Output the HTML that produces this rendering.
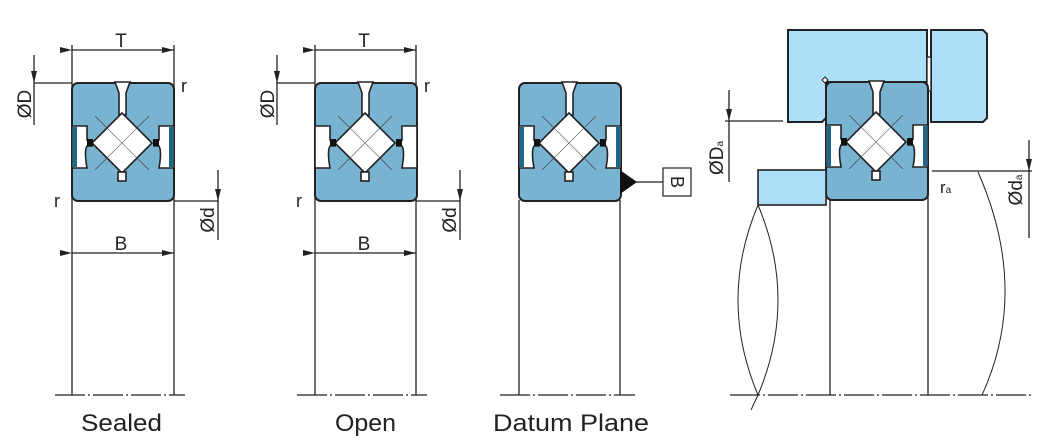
<!DOCTYPE html>
<html><head><meta charset="utf-8"><style>
html,body{margin:0;padding:0;background:#fff;}
svg{display:block;font-family:"Liberation Sans",sans-serif;}
</style></head><body>
<svg width="1049" height="445" viewBox="0 0 1049 445" xmlns="http://www.w3.org/2000/svg">
<defs>
<marker id="ar" viewBox="0 0 12 6" refX="12" refY="3" markerWidth="12" markerHeight="6" orient="auto" markerUnits="userSpaceOnUse"><path d="M0,0 L12,3 L0,6 Z" fill="#222"/></marker>
<g id="brg">
<rect x="0" y="0" width="102" height="118" rx="6" fill="#78b3d1" stroke="#222" stroke-width="2"/>
<path d="M43,-1 L58,-1 L54,10 L54,32 L47,32 L47,10 Z" fill="#fff" stroke="#222" stroke-width="1.6"/>
<line x1="23" y1="33" x2="77" y2="87" stroke="#444" stroke-width="0.7"/>
<line x1="77" y1="33" x2="23" y2="87" stroke="#444" stroke-width="0.7"/>
<path d="M50,30 L80,60 L50,90 L20,60 Z" fill="#fff" stroke="#222" stroke-width="1.6"/>
<line x1="33" y1="43" x2="67" y2="77" stroke="#555" stroke-width="0.6"/>
<line x1="67" y1="43" x2="33" y2="77" stroke="#555" stroke-width="0.6"/>
<rect x="46" y="89" width="8" height="9" fill="#fff" stroke="#222" stroke-width="1.6"/>
<path d="M0,43 L15,43 L15,57 L20,57 L20,63 L15,63 Q12,68 15,85 L0,85 Z" fill="#fff" stroke="#222" stroke-width="1.6"/>
<path d="M102,43 L87,43 L87,57 L82,57 L82,63 L87,63 Q90,68 87,85 L102,85 Z" fill="#fff" stroke="#222" stroke-width="1.6"/>
<rect x="15" y="56" width="6" height="7" fill="#111"/>
<rect x="81" y="56" width="6" height="7" fill="#111"/>
</g>
</defs>

<g stroke="#222" stroke-width="1.3" fill="none">
<!-- Sealed -->
<line x1="72" y1="45" x2="72" y2="395"/><line x1="174" y1="45" x2="174" y2="395"/>
<line x1="72" y1="50" x2="174" y2="50" marker-start="url(#ar)" marker-end="url(#ar)"/>
<line x1="72" y1="253" x2="174" y2="253" marker-start="url(#ar)" marker-end="url(#ar)"/>
<line x1="34" y1="83" x2="72" y2="83"/><line x1="34" y1="55" x2="34" y2="83" marker-end="url(#ar)"/><line x1="34" y1="83" x2="34" y2="125"/>
<line x1="174" y1="201" x2="218" y2="201"/><line x1="218" y1="170" x2="218" y2="201" marker-end="url(#ar)"/><line x1="218" y1="201" x2="218" y2="240"/>
<line x1="55" y1="395" x2="185" y2="395" stroke-dasharray="30,3,2,3"/>
<!-- Open -->
<line x1="315" y1="45" x2="315" y2="395"/><line x1="416" y1="45" x2="416" y2="395"/>
<line x1="315" y1="50" x2="416" y2="50" marker-start="url(#ar)" marker-end="url(#ar)"/>
<line x1="315" y1="253" x2="416" y2="253" marker-start="url(#ar)" marker-end="url(#ar)"/>
<line x1="277" y1="83" x2="315" y2="83"/><line x1="277" y1="55" x2="277" y2="83" marker-end="url(#ar)"/><line x1="277" y1="83" x2="277" y2="125"/>
<line x1="416" y1="201" x2="460" y2="201"/><line x1="460" y1="170" x2="460" y2="201" marker-end="url(#ar)"/><line x1="460" y1="201" x2="460" y2="240"/>
<line x1="297" y1="395" x2="427" y2="395" stroke-dasharray="30,3,2,3"/>
<!-- Datum -->
<line x1="519" y1="200" x2="519" y2="395"/><line x1="620" y1="200" x2="620" y2="395"/>
<line x1="500" y1="395" x2="635" y2="395" stroke-dasharray="30,3,2,3"/>
<line x1="636" y1="182" x2="663" y2="182"/>
<!-- Mounted -->
<line x1="830" y1="200" x2="830" y2="395"/><line x1="928" y1="120" x2="928" y2="395"/>
<line x1="730" y1="395" x2="1032" y2="395" stroke-dasharray="30,3,2,3"/>
<line x1="725" y1="121" x2="783" y2="121"/><line x1="729" y1="90" x2="729" y2="121" marker-end="url(#ar)"/><line x1="729" y1="121" x2="729" y2="182"/>
<line x1="932" y1="171" x2="1032" y2="171"/><line x1="1029" y1="140" x2="1029" y2="171" marker-end="url(#ar)"/><line x1="1029" y1="171" x2="1029" y2="238"/>
<path d="M758,205 Q718,300 758,395 Q798,300 758,205" stroke-width="1"/>
<line x1="758" y1="395" x2="751" y2="410" stroke-width="1"/>
<path d="M978,172 Q1030,290 982,395" stroke-width="1"/>
</g>

<use href="#brg" x="72" y="83"/>
<use href="#brg" x="315" y="83"/>
<use href="#brg" x="519" y="83"/>
<!-- Open bearing: hide dark seal strips -->
<!-- Sealed dark strips -->
<rect x="73" y="127" width="4" height="40" fill="#1a6790"/>
<rect x="169" y="127" width="4" height="40" fill="#1a6790"/>
<rect x="520" y="127" width="4" height="40" fill="#1a6790"/>
<rect x="616" y="127" width="4" height="40" fill="#1a6790"/>

<!-- Housing -->
<path d="M788,30 L927,30 L927,82 L826,82 L826,118 L822,122 L788,122 Z" fill="#ade0f8" stroke="#222" stroke-width="2"/>
<path d="M931,30 L983,30 L987,34 L987,118 L983,122 L931,122 Z" fill="#ade0f8" stroke="#222" stroke-width="2"/>
<rect x="927" y="57" width="4" height="34" fill="#fff" stroke="#222" stroke-width="1.3"/>
<use href="#brg" x="826" y="82"/>
<rect x="827" y="126" width="4" height="40" fill="#1a6790"/>
<rect x="923" y="126" width="4" height="40" fill="#1a6790"/>
<path d="M822,80 L825,77 L828,80 L825,83 Z" fill="#fff" stroke="#222" stroke-width="1"/>
<rect x="758" y="170" width="68" height="35" fill="#ade0f8" stroke="#222" stroke-width="1.6"/>

<!-- Datum triangle & box -->
<path d="M620,170 L637,182 L620,194 Z" fill="#111"/>
<rect x="663" y="168" width="28" height="28" fill="#fff" stroke="#222" stroke-width="1.2"/>
<text x="0" y="0" font-size="18" fill="#222" text-anchor="middle" transform="translate(671,182) rotate(90)">B</text>

<g fill="#222" font-size="19">
<text x="121" y="47" text-anchor="middle">T</text>
<text x="121" y="250" text-anchor="middle">B</text>
<text x="364" y="47" text-anchor="middle">T</text>
<text x="364" y="250" text-anchor="middle">B</text>
<text x="181" y="92" font-size="18">r</text>
<text x="54" y="207" font-size="18">r</text>
<text x="424" y="92" font-size="18">r</text>
<text x="296" y="207" font-size="18">r</text>
<text transform="translate(31,104) rotate(-90)" text-anchor="middle">ØD</text>
<text transform="translate(274,104) rotate(-90)" text-anchor="middle">ØD</text>
<text transform="translate(214,220) rotate(-90)" text-anchor="middle">Ød</text>
<text transform="translate(456,220) rotate(-90)" text-anchor="middle">Ød</text>
<text transform="translate(723,158) rotate(-90)" text-anchor="middle">ØD<tspan font-size="10">a</tspan></text>
<text transform="translate(1022,190) rotate(-90)" text-anchor="middle">Ød<tspan font-size="10">a</tspan></text>
<text x="940" y="193" font-size="17">r<tspan font-size="10">a</tspan></text>
</g>
<g fill="#222" font-size="24">
<text x="81" y="431" textLength="81" lengthAdjust="spacingAndGlyphs">Sealed</text>
<text x="335" y="431" textLength="61" lengthAdjust="spacingAndGlyphs">Open</text>
<text x="493" y="431" textLength="156" lengthAdjust="spacingAndGlyphs">Datum Plane</text>
</g>
</svg>
</body></html>
